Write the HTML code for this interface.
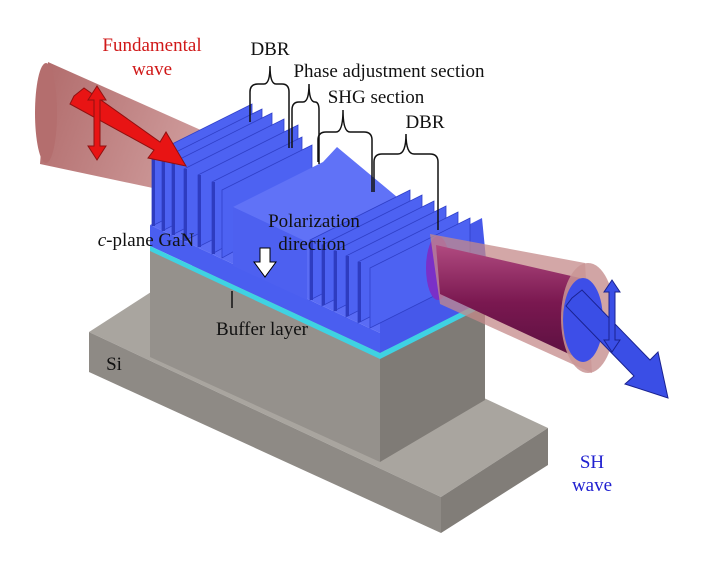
<!DOCTYPE html>
<html><head><meta charset="utf-8"><style>
html,body{margin:0;padding:0;background:#fff;}
svg{display:block;}
text{font-family:"Liberation Serif",serif;}
</style></head><body>
<svg width="720" height="563" viewBox="0 0 720 563" xmlns="http://www.w3.org/2000/svg">
<defs>
<linearGradient id="inb" x1="0" y1="0" x2="1" y2="0.3">
<stop offset="0" stop-color="#a85a5a"/><stop offset="1" stop-color="#c99090"/></linearGradient>
<linearGradient id="pur" x1="0" y1="0" x2="0" y2="1">
<stop offset="0" stop-color="#b04a80"/><stop offset="0.5" stop-color="#7a1850"/><stop offset="1" stop-color="#5a1040"/></linearGradient>
</defs>
<polygon points="89,332 196,263 548,428 441,497" fill="#a9a59f"/>
<polygon points="89,332 441,497 441,533 89,372" fill="#8e8a85"/>
<polygon points="441,497 548,428 548,465 441,533" fill="#817d78"/>
<polygon points="150,250 380,358 380,462 150,357" fill="#95918c"/>
<polygon points="380,358 485,305 485,400 380,462" fill="#7f7b76"/>
<polygon points="48,62 212,135 200,198 40,164" fill="url(#inb)" opacity="0.9"/>
<ellipse cx="46" cy="113" rx="11" ry="50" fill="#b46e6e"/>
<polygon points="150,225 260,170 490,278 380,333" fill="#5a6cf5"/>
<polygon points="380,270 482,218 490,300 380,353" fill="#4658ea"/>
<polygon points="150,225 380,333 380,353 150,246" fill="#4a5ef0"/>
<polygon points="150,246 380,353 485,300 485,306 380,359 150,251" fill="#3fd2e2"/>
<g fill="#4d62f2" stroke="#3040c8" stroke-width="0.8">
<polygon points="152,154 252,104 252,176 152,226"/>
<polygon points="162,159 262,109 262,181 162,231"/>
<polygon points="172,163 272,113 272,185 172,235"/>
<polygon points="184,169 284,119 284,191 184,241"/>
<polygon points="198,175 298,125 298,197 198,247"/>
<polygon points="212,182 302,137 302,204 212,254"/>
<polygon points="222,190 312,145 312,208 222,258"/>
</g>
<g fill="#2e3cc0">
<rect x="152" y="154" width="3" height="72"/><rect x="162" y="159" width="3" height="72"/>
<rect x="172" y="163" width="3" height="72"/><rect x="184" y="169" width="3" height="72"/>
<rect x="198" y="175" width="3" height="72"/><rect x="212" y="182" width="3" height="72"/>
</g>
<polygon points="233,207 323,162 337,147 397,197 307,242" fill="#6072f7"/>
<polygon points="233,207 307,242 307,300 233,266" fill="#4d60f0"/>
<g fill="#4d62f2" stroke="#3040c8" stroke-width="0.8">
<polygon points="310,240 410,190 410,250 310,300"/>
<polygon points="322,245 422,195 422,255 322,306"/>
<polygon points="334,251 434,201 434,261 334,311"/>
<polygon points="346,256 446,206 446,266 346,317"/>
<polygon points="358,262 458,212 458,272 358,323"/>
<polygon points="370,268 470,218 470,278 370,328"/>
</g>
<g fill="#2e3cc0">
<rect x="310" y="240" width="3" height="60"/><rect x="322" y="245" width="3" height="60"/>
<rect x="334" y="251" width="3" height="60"/><rect x="346" y="256" width="3" height="60"/>
<rect x="358" y="262" width="3" height="60"/>
</g>
<ellipse cx="438" cy="268" rx="12" ry="32" fill="#7a30c8"/>
<polygon points="430,234 585,263 592,373 440,304" fill="#c48a8a" opacity="0.75"/>
<polygon points="436,245 580,278 582,360 440,294" fill="url(#pur)"/>
<ellipse cx="588" cy="318" rx="27" ry="55" fill="#c99595" opacity="0.85"/>
<ellipse cx="583" cy="320" rx="20" ry="42" fill="#3d4ee8"/>
<g fill="#3a4ee6" stroke="#1a2290" stroke-width="1">
<polygon points="572,298 582,290 650,360 658,352 668,398 625,384 634,376 566,306"/>
<polygon points="612,280 620,292 615,292 615,340 620,340 612,352 604,340 609,340 609,292 604,292"/>
</g>
<g fill="#e81414" stroke="#901010" stroke-width="1">
<polygon points="74,96 84,88 160,142 166,132 186,166 148,158 154,150 70,104"/>
<polygon points="97,86 106,100 100,100 100,146 106,146 97,160 88,146 94,146 94,100 88,100"/>
</g>
<polygon points="260,248 270,248 270,262 276,262 265,277 254,262 260,262" fill="#fff" stroke="#000" stroke-width="1"/>
<g fill="none" stroke="#111" stroke-width="1.5">
<path d="M250,122 V92 Q250,84 258,84 H264 Q270,84 270,66 Q270,84 276,84 H282 Q289,84 289,92 V148"/>
<path d="M292,148 V110 Q292,102 299,102 H303 Q309,102 309,84 Q309,102 315,102 Q319,102 319,110 V164"/>
<path d="M318,162 V140 Q318,132 326,132 H336 Q343,132 343,110 Q343,132 350,132 H364 Q372,132 372,140 V192"/>
<path d="M374,192 V162 Q374,154 382,154 H398 Q406,154 406,134 Q406,154 414,154 H430 Q438,154 438,162 V230"/>
<line x1="232" y1="291" x2="232" y2="308"/>
</g>
<g font-size="19" fill="#111" text-anchor="middle">
<text x="152" y="51" fill="#d01818">Fundamental</text>
<text x="152" y="75" fill="#d01818">wave</text>
<text x="270" y="55">DBR</text>
<text x="389" y="77">Phase adjustment section</text>
<text x="376" y="103">SHG section</text>
<text x="425" y="128">DBR</text>
<text x="146" y="246"><tspan font-style="italic">c</tspan>-plane GaN</text>
<text x="314" y="227">Polarization</text>
<text x="312" y="250">direction</text>
<text x="262" y="335">Buffer layer</text>
<text x="114" y="370">Si</text>
<text x="592" y="468" fill="#2020d0">SH</text>
<text x="592" y="491" fill="#2020d0">wave</text>
</g>
</svg>
</body></html>
